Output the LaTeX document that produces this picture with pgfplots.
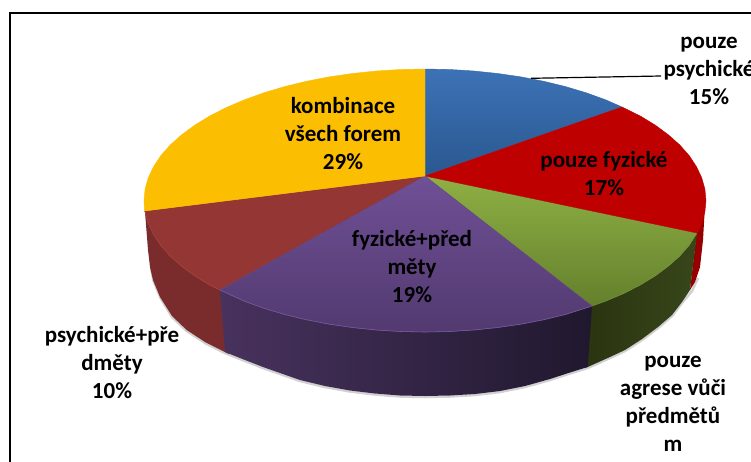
\documentclass[border=0pt]{standalone}
\usepackage{fontspec}
\setmainfont{Carlito}
\usepackage{pgfplots}
\pgfplotsset{compat=1.18}
\tikzset{lbl/.style={font=\fontsize{23}{28}\selectfont\bfseries,align=center,text=black,inner sep=0pt}}
\definecolor{midblue}{RGB}{51,101,163}
\definecolor{midred}{RGB}{190,0,0}
\definecolor{midgreen}{RGB}{121,152,56}
\definecolor{midpurple}{RGB}{97,69,131}
\definecolor{midbrown}{RGB}{147,54,52}
\definecolor{midyellow}{RGB}{252,190,0}
\begin{document}
\begin{tikzpicture}[x=1pt,y=1pt]
\path[use as bounding box,clip] (0,0) rectangle (751,461);
\begin{axis}[at={(0,0)},anchor=south west,scale only axis,width=751pt,height=461pt,
  xmin=0,xmax=751,ymin=0,ymax=461,y dir=reverse,hide axis,clip=false,
  every axis plot/.append style={draw=none,mark=none,line join=round}]
% frame
\addplot[draw=black,line width=2pt,line join=miter] coordinates {(10,470)(10,13)(760,13)};
% soft shadow of the pie's lower edge
\addplot[draw=black!18,line width=2.5pt] coordinates {(151,268)(153.5,281)(160.5,298)(172,317)(186.7,331)(205,343)(225,353)(245,361)(263,368)(280,374)(300,381)(325,387)(350,391.5)(375,394.5)(400,396.5)(425,397)(450,396.5)(475,395)(500,392)(525,387)(550,380)(570,373.5)(587.7,368)(610,358)(625,351)(642,340)(658,328)(672,316)(682,303)(692,291)(698,278)};
% sides
\addplot[fill={rgb,255:red,150;green,0;blue,0}] coordinates {(705,205)(704.9,212)(696.4,234.5)(690,290)(695,282)(700,267)(703,240)(705,205)};
\addplot[fill={rgb,255:red,122;green,43;blue,43}] coordinates {(224,290)(194.8,275.9)(170.3,256.1)(153.6,234.5)(145,212)(148,250)(150,267)(153,280)(160,297)(172,316)(186.7,330)(205,342)(225,352)(229,354)(224,290)};
\addplot[left color={rgb,255:red,42;green,52;blue,16},right color={rgb,255:red,56;green,70;blue,26}] coordinates {(697,233)(679.7,256.1)(655.2,275.9)(623.7,293.5)(588,306)(584,368)(587.7,367)(610,357)(625,350)(642,339)(658,327)(672,315)(682,302)(690,290)(697,233)};
\addplot[left color={rgb,255:red,72;green,50;blue,94},right color={rgb,255:red,32;green,24;blue,46}] coordinates {(592,306)(565.5,314.4)(521.1,324.1)(473.8,330)(425,332)(376.2,330)(328.9,324.1)(284.5,314.4)(244.4,301.2)(220,290)(225,352)(245,360)(263,367)(280,373)(300,380)(325,386)(350,390.5)(375,393.5)(400,395.5)(425,396)(450,395.5)(475,394)(500,391)(525,386)(550,379)(570,372.5)(587.7,367)(592,306)};
% top faces
\addplot[draw=midblue,line width=0.4pt,top color={rgb,255:red,60;green,114;blue,182},bottom color={rgb,255:red,42;green,88;blue,144}] coordinates {(425,176)(425,69)(449.5,69.5)(473.8,71)(497.7,73.5)(521.1,76.9)(543.8,81.3)(565.5,86.6)(586.2,92.8)(605.6,99.8)(622,107)(425,176)};
\addplot[draw=midgreen,line width=0.4pt,top color={rgb,255:red,142;green,176;blue,68},bottom color={rgb,255:red,100;green,128;blue,44}] coordinates {(425,176)(697,233)(689.1,245.5)(679.7,256.1)(668.3,266.25)(655.2,275.9)(640.3,285)(623.7,293.5)(605.6,301.2)(592,306)(425,176)};
\addplot[draw=midred,line width=0.4pt,fill=midred] coordinates {(425,176)(622,107)(640.3,116)(655.2,125.1)(668.3,134.75)(679.7,144.9)(689.1,155.5)(696.4,166.5)(701.7,177.7)(704.9,189)(706,200.5)(704.9,212)(701.7,223.3)(697,233)(425,176)};
\addplot[draw=midbrown,line width=0.4pt,fill=midbrown] coordinates {(425,176)(220,290)(209.7,285)(194.8,275.9)(181.7,266.25)(170.3,256.1)(160.9,245.5)(153.6,234.5)(148.3,223.3)(145.1,212)(144.5,211)(425,176)};
\addplot[draw=midpurple,line width=0.4pt,top color={rgb,255:red,112;green,80;blue,150},bottom color={rgb,255:red,82;green,58;blue,112}] coordinates {(425,176)(592,306)(565.5,314.4)(543.8,319.7)(521.1,324.1)(497.7,327.5)(473.8,330)(449.5,331.5)(425,332)(400.5,331.5)(376.2,330)(352.3,327.5)(328.9,324.1)(306.2,319.7)(284.5,314.4)(263.8,308.2)(244.4,301.2)(220,290)(425,176)};
\addplot[draw=midyellow,line width=0.4pt,fill=midyellow] coordinates {(425,176)(144.5,211)(144,200.5)(145.1,189)(148.3,177.7)(153.6,166.5)(160.9,155.5)(170.3,144.9)(181.7,134.75)(194.8,125.1)(209.7,116)(226.3,107.5)(244.4,99.8)(263.8,92.8)(284.5,86.6)(306.2,81.3)(328.9,76.9)(352.3,73.5)(376.2,71)(400.5,69.5)(425,69)(425,176)};
% rim highlights
\addplot[draw={rgb,255:red,118;green,88;blue,156},line width=0.6pt] coordinates {(592,306)(565.5,314.4)(543.8,319.7)(521.1,324.1)(497.7,327.5)(473.8,330)(449.5,331.5)(425,332)(400.5,331.5)(376.2,330)(352.3,327.5)(328.9,324.1)(306.2,319.7)(284.5,314.4)(263.8,308.2)(244.4,301.2)(220,290)};
\addplot[draw={rgb,255:red,170;green,66;blue,62},line width=0.6pt] coordinates {(220,290)(209.7,285)(194.8,275.9)(181.7,266.25)(170.3,256.1)(160.9,245.5)(153.6,234.5)(148.3,223.3)(145.1,212)};
% leader
\addplot[draw=black,line width=1.2pt] coordinates {(531,78.3)(661,76)};
% labels
\node[lbl] at (axis cs:709,71) {pouze\\psychické\\15\%};
\node[lbl] at (axis cs:604,174) {pouze fyzické\\17\%};
\node[lbl] at (axis cs:343,134) {kombinace\\všech forem\\29\%};
\node[lbl] at (axis cs:412,267) {fyzické+před\\měty\\19\%};
\node[lbl] at (axis cs:112,363) {psychické+pře\\dměty\\10\%};
\node[lbl] at (axis cs:673,403.5) {pouze\\agrese vůči\\předmětů\\m};
\end{axis}
\end{tikzpicture}
\end{document}
